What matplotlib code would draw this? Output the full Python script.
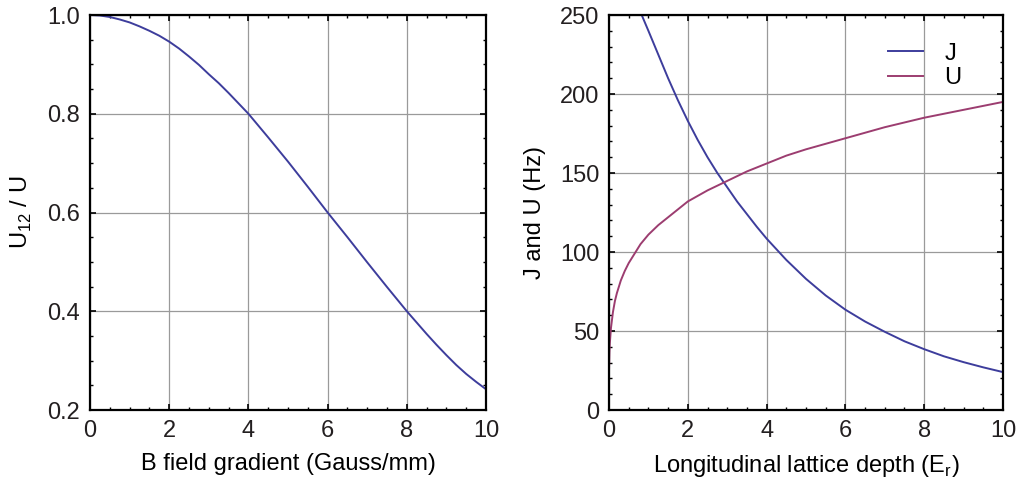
import numpy as np
import matplotlib.pyplot as plt
from matplotlib.ticker import MultipleLocator

plt.rcParams['font.family'] = ['Liberation Sans', 'DejaVu Sans']
plt.rcParams['mathtext.fontset'] = 'custom'
plt.rcParams['mathtext.rm'] = 'Liberation Sans'

# left panel: U12/U vs B field gradient
grad = [0, 0.25, 0.5, 0.75, 1, 1.25, 1.5, 1.75, 2, 2.25, 2.5, 2.75, 3, 3.25, 3.5,
        3.75, 4, 4.5, 5, 5.5, 6, 6.5, 7, 7.5, 8, 8.25, 8.5, 8.75, 9, 9.25, 9.5,
        9.75, 10]
u_ratio = [1.000, 0.999, 0.996, 0.991, 0.985, 0.977, 0.968, 0.958, 0.946, 0.932,
           0.916, 0.899, 0.880, 0.862, 0.842, 0.821, 0.800, 0.752, 0.703, 0.652,
           0.600, 0.550, 0.499, 0.449, 0.400, 0.377, 0.354, 0.332, 0.311, 0.291,
           0.273, 0.257, 0.242]

# right panel: J and U vs lattice depth
depth_j = [0.83, 1.0, 1.25, 1.5, 1.75, 2.0, 2.25, 2.5, 2.75, 3.0, 3.25, 3.5, 3.75,
           4.0, 4.5, 5.0, 5.5, 6.0, 6.5, 7.0, 7.5, 8.0, 8.5, 9.0, 9.5, 10.0]
j_hz = [250, 240, 225, 210, 196, 183, 171, 160, 150, 141, 132, 124, 116,
        108.5, 95, 83, 72.5, 63.5, 56, 49.5, 43.5, 38.5, 34, 30.3, 27, 24]
depth_u = [0.0, 0.01, 0.02, 0.05, 0.1, 0.15, 0.2, 0.3, 0.4, 0.5, 0.6, 0.7, 0.8,
           1.0, 1.25, 1.5, 1.75, 2.0, 2.5, 3.0, 3.5, 4.0, 4.5, 5.0, 5.5, 6.0,
           6.5, 7.0, 7.5, 8.0, 8.5, 9.0, 9.5, 10.0]
u_hz = [25, 36, 42, 52, 62, 69, 74, 82, 88, 93, 97, 101, 105,
        111, 117, 122, 127, 132, 139, 145, 151, 156, 161, 165, 168.5, 172,
        175.5, 179, 182, 185, 187.5, 190, 192.5, 195]

blue = '#3d3d9c'
plum = '#9c3d70'

fig = plt.figure(figsize=(10.22, 4.83), dpi=100)
ax1 = fig.add_axes([0.0881, 0.1511, 0.3875, 0.8178])
ax2 = fig.add_axes([0.5959, 0.1511, 0.3855, 0.8178])

ax1.plot(grad, u_ratio, color=blue, lw=1.4)
ax2.plot(depth_j, j_hz, color=blue, lw=1.4, label='J')
ax2.plot(depth_u, u_hz, color=plum, lw=1.4, label='U')

ax1.set_xlim(0, 10)
ax1.set_ylim(0.2, 1.0)
ax1.xaxis.set_major_locator(MultipleLocator(2))
ax1.xaxis.set_minor_locator(MultipleLocator(0.5))
ax1.yaxis.set_major_locator(MultipleLocator(0.2))
ax1.yaxis.set_minor_locator(MultipleLocator(0.05))
ax1.set_xlabel('B field gradient (Gauss/mm)', fontsize=17, labelpad=8)
ax1.set_ylabel(r'U$_{\mathregular{12}}$ / U', fontsize=17, labelpad=10)

ax2.set_xlim(0, 10)
ax2.set_ylim(0, 250)
ax2.xaxis.set_major_locator(MultipleLocator(2))
ax2.xaxis.set_minor_locator(MultipleLocator(0.5))
ax2.yaxis.set_major_locator(MultipleLocator(50))
ax2.yaxis.set_minor_locator(MultipleLocator(10))
ax2.set_xlabel(r'Longitudinal lattice depth (E$_{\mathregular{r}}$)', fontsize=17, labelpad=8)
ax2.set_ylabel('J and U (Hz)', fontsize=17, labelpad=10)
ax2.legend(loc='upper right', bbox_to_anchor=(0.955, 0.99), frameon=False,
           fontsize=17, handlelength=1.5, handletextpad=0.9, labelspacing=0.1,
           borderaxespad=0.6)

for ax in (ax1, ax2):
    ax.grid(True, which='major', color='#9a9a9a', lw=0.9)
    ax.tick_params(which='both', direction='in', top=True, right=True,
                   labelsize=17, colors='black', labelcolor='#231f20')
    ax.tick_params(which='major', length=4, width=1.2, pad=7)
    ax.tick_params(which='minor', length=2.5, width=1)
    for s in ax.spines.values():
        s.set_linewidth(1.6)

fig.savefig('out.png', dpi=100)
